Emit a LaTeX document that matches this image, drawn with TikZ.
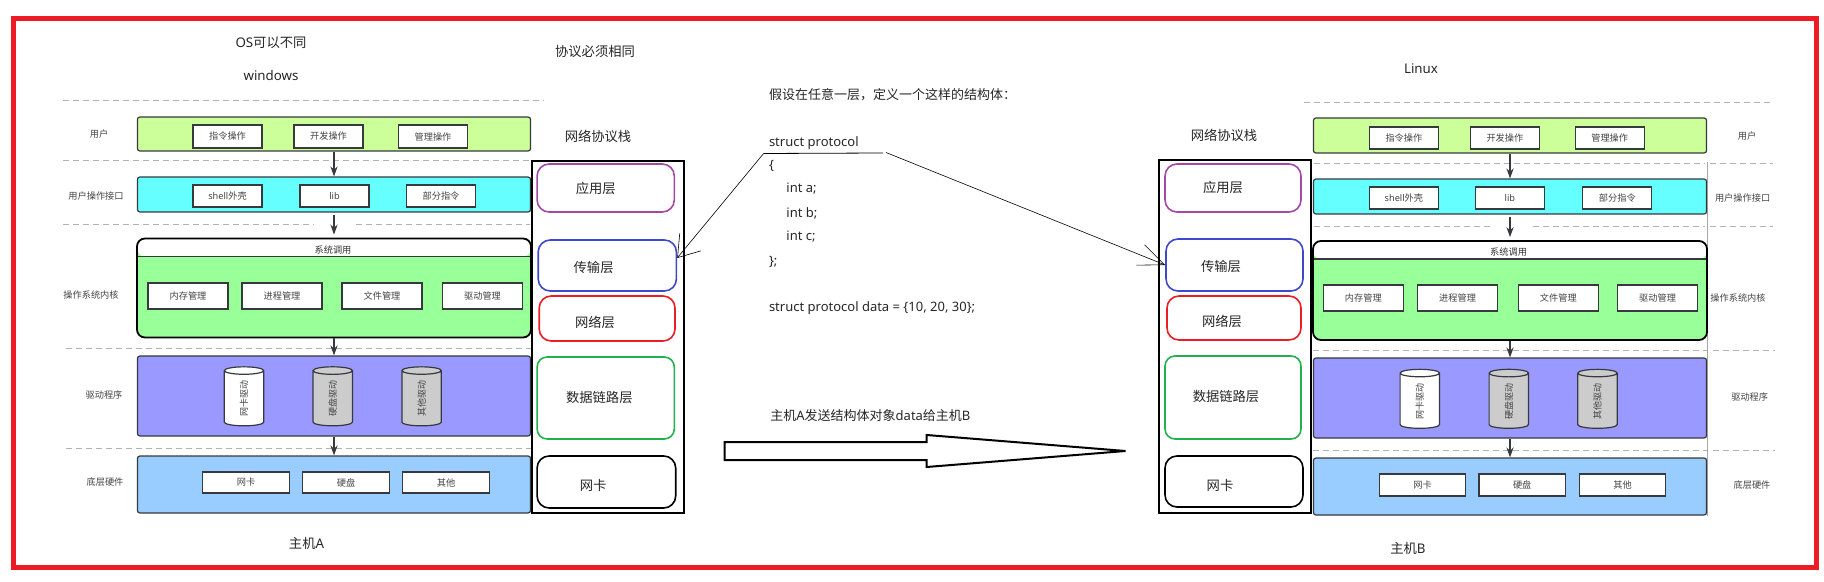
\documentclass[tikz,border=0pt]{standalone}
\usepackage{fontspec}
\setmainfont{Noto Sans CJK SC}
\newfontfamily\latinfont{Noto Sans}
\usetikzlibrary{shapes.geometric,shapes.arrows,arrows.meta}
\definecolor{framered}{HTML}{ED1C24}
\definecolor{usergreen}{HTML}{CCFF99}
\definecolor{ifacecyan}{HTML}{66FFFF}
\definecolor{kernelgreen}{HTML}{99FF99}
\definecolor{driverblue}{HTML}{9999FF}
\definecolor{hwblue}{HTML}{99CCFF}
\definecolor{cylgray}{HTML}{CCCCCC}
\definecolor{edgegray}{HTML}{36393D}
\definecolor{labelgray}{HTML}{444444}
\definecolor{apppurple}{HTML}{A349A4}
\definecolor{transblue}{HTML}{3F48CC}
\definecolor{linkgreen}{HTML}{22B14C}
\tikzset{
  layerbar/.style={draw=edgegray, line width=0.6pt, rounded corners=1.2pt, minimum width=196.5pt, inner sep=0pt},
  itembox/.style={draw=edgegray, line width=0.6pt, fill=white, inner sep=0pt, text=labelgray, font=\fontsize{4.6}{5}\selectfont},
  syscall/.style={draw=black, line width=0.9pt, rounded corners=4pt, fill=kernelgreen, minimum width=197pt, minimum height=49.5pt, inner sep=0pt,
    path picture={
      \fill[white] (path picture bounding box.north west) rectangle ([yshift=-9pt]path picture bounding box.north east);
      \draw[edgegray, line width=0.6pt] ([yshift=-9pt]path picture bounding box.north west) -- ([yshift=-9pt]path picture bounding box.north east);
    }},
  drum/.style={shape=cylinder, rotate=90, aspect=0.9, draw=edgegray, line width=0.6pt, minimum width=19.7pt, minimum height=29.5pt, inner sep=0pt, text=labelgray, font=\fontsize{4.5}{5}\selectfont},
  sidetext/.style={inner sep=0pt, text=labelgray, font=\fontsize{4.6}{5}\selectfont},
  bigtext/.style={inner sep=0pt, text=black!85, font=\fontsize{6.65}{7}\selectfont},
  codetext/.style={inner sep=0pt, anchor=west, text=black!85, font=\fontsize{6.5}{7}\selectfont},
  stackbox/.style={draw=black, line width=1pt, inner sep=0pt},
  layerloop/.style={line width=0.8pt, rounded corners=6pt, inner sep=0pt},
  sepline/.style={gray!60, line width=0.3pt, densely dashed},
  flow/.style={-{Stealth[length=5pt,width=3.6pt]}, edgegray, line width=0.6pt},
}
\begin{document}
\begin{tikzpicture}[x=0.5pt,y=-0.5pt]
    \useasboundingbox (0,0) rectangle (1824,582);
    \node[draw=framered, line width=2.5pt, minimum width=901.5pt, minimum height=274.25pt, inner sep=0pt] (frame) at (915,292.75) {};

    % separators
    \draw[sepline] (63,100) -- (544,100);
    \draw[sepline] (63,160.5) -- (531,160.5);
    \draw[sepline] (63,224) -- (314,224);
    \draw[sepline] (356,224) -- (530,224);
    \draw[sepline] (66,348) -- (531,348);
    \draw[sepline] (66,448) -- (531,448);
    \draw[sepline] (1304,102.5) -- (1773,102.5);
    \draw[sepline] (1314,163) -- (1705,163);
    \draw[sepline] (1710,163) -- (1773,163);
    \draw[sepline] (1314,226) -- (1490,226);
    \draw[sepline] (1533,226) -- (1705,226);
    \draw[sepline] (1710,226) -- (1773,226);
    \draw[sepline] (1313,350) -- (1707,350);
    \draw[sepline] (1713,350) -- (1775,350);
    \draw[sepline] (1313,450) -- (1707,450);
    \draw[sepline] (1713,450) -- (1775,450);
    \draw[gray!70, line width=0.4pt] (1707,162) -- (1707,516);

    % host A
    \node[bigtext] (osdiff) at (271,43) {{\latinfont OS}可以不同};
    \node[bigtext, font=\fontsize{6.65}{7}\latinfont] (winos) at (271,76) {windows};
    \node[sidetext] (sideua) at (99,134) {用户};
    \node[sidetext] (sideia) at (96,196) {用户操作接口};
    \node[sidetext] (sideka) at (91,295) {操作系统内核};
    \node[sidetext] (sideda) at (104,395) {驱动程序};
    \node[sidetext] (sideha) at (105,482) {底层硬件};
    \node[layerbar, fill=usergreen, minimum height=17pt] (usera) at (334,134) {};
    \node[itembox, minimum width=34.5pt, minimum height=11.5pt] (cmda) at (227.5,136.5) {指令操作};
    \node[itembox, minimum width=34.5pt, minimum height=11.5pt] (deva) at (328.5,136.5) {开发操作};
    \node[itembox, minimum width=34.5pt, minimum height=11.5pt] (mgta) at (433,136.5) {管理操作};
    \node[layerbar, fill=ifacecyan, minimum height=17.5pt] (ifacea) at (334,194.5) {};
    \node[itembox, minimum width=34.5pt, minimum height=11pt] (shella) at (227.5,196) {{\latinfont shell}外壳};
    \node[itembox, minimum width=34.5pt, minimum height=11pt, font=\fontsize{4.6}{5}\latinfont] (liba) at (334.5,196) {lib};
    \node[itembox, minimum width=34.5pt, minimum height=11pt] (parta) at (441,196) {部分指令};
    \node[syscall] (kernela) at (334,288) {};
    \node[sidetext, text=black!80] (calla) at (333,250) {系统调用};
    \node[itembox, minimum width=40pt, minimum height=13pt] (mema) at (188,296) {内存管理};
    \node[itembox, minimum width=40pt, minimum height=13pt] (proca) at (282,296) {进程管理};
    \node[itembox, minimum width=40pt, minimum height=13pt] (filea) at (382,296) {文件管理};
    \node[itembox, minimum width=40pt, minimum height=13pt] (drva) at (482.5,296) {驱动管理};
    \node[layerbar, fill=driverblue, minimum height=40pt] (drivera) at (334,396) {};
    \node[drum, fill=white] (nicdrva) at (244,398.5) {网卡驱动};
    \node[drum, fill=cylgray] (diskdrva) at (332.7,398.5) {硬盘驱动};
    \node[drum, fill=cylgray] (othdrva) at (421.6,398.5) {其他驱动};
    \node[layerbar, fill=hwblue, minimum height=28.5pt] (hwa) at (334,484.5) {};
    \node[itembox, minimum width=43.2pt, minimum height=10.5pt] (nethwa) at (246,482.5) {网卡};
    \node[itembox, minimum width=43.2pt, minimum height=10.5pt] (diska) at (346,482.5) {硬盘};
    \node[itembox, minimum width=43.2pt, minimum height=10.5pt] (otha) at (446,482.5) {其他};
    \node[bigtext] (hosta) at (306.5,543) {主机{\latinfont A}};
    \draw[flow] (usera) -- (ifacea);
    \draw[flow, shorten >=1.5pt, shorten <=1pt] (ifacea) -- (kernela);
    \draw[flow] (kernela) -- (drivera);
    \draw[flow] (drivera) -- (hwa);

    % stack A
    \node[bigtext] (agree) at (595,51) {协议必须相同};
    \node[bigtext] (titlea) at (598,136) {网络协议栈};
    \node[stackbox, minimum width=75.9pt, minimum height=176pt] (stacka) at (607.7,337) {};
    \node[layerloop, draw=apppurple, minimum width=68.6pt, minimum height=24pt] (appa) at (605.7,188) {};
    \node[layerloop, draw=transblue, minimum width=69.1pt, minimum height=25.5pt] (transa) at (607.3,265.5) {};
    \node[layerloop, draw=framered, minimum width=67.9pt, minimum height=22.5pt] (neta) at (607.1,318.5) {};
    \node[layerloop, draw=linkgreen, rounded corners=5pt, minimum width=68.6pt, minimum height=41pt] (linka) at (605.7,398) {};
    \node[layerloop, draw=black, minimum width=69.3pt, minimum height=26pt] (nica) at (606.4,482) {};
    \node[bigtext] (apptexta) at (595.7,188) {应用层};
    \node[bigtext] (transtexta) at (593.6,267) {传输层};
    \node[bigtext] (nettexta) at (595,322) {网络层};
    \node[bigtext] (linktexta) at (599.3,397) {数据链路层};
    \node[bigtext] (nictexta) at (593.2,485) {网卡};

    % middle text
    \node[codetext] (assume) at (768.6,95) {假设在任意一层，定义一个这样的结构体：};
    \node[codetext, font=\fontsize{6.5}{7}\latinfont] (structname) at (768.6,143) {struct protocol};
    \node[codetext, font=\fontsize{6.5}{7}\latinfont] (bropen) at (768.6,166) {\{};
    \node[codetext, font=\fontsize{6.5}{7}\latinfont] (inta) at (786,189) {int a;};
    \node[codetext, font=\fontsize{6.5}{7}\latinfont] (intb) at (786,213) {int b;};
    \node[codetext, font=\fontsize{6.5}{7}\latinfont] (intc) at (786,237) {int c;};
    \node[codetext, font=\fontsize{6.5}{7}\latinfont] (brclose) at (768.6,262) {\};};
    \node[codetext, font=\fontsize{6.5}{7}\latinfont] (dataline) at (768.6,308) {struct protocol data = \{10, 20, 30\};};
    \node[codetext] (sendline) at (770,416) {主机{\latinfont A}发送结构体对象{\latinfont data}给主机{\latinfont B}};
    \node[draw=black, line width=1pt, shape=single arrow, inner xsep=0pt, inner ysep=4pt, minimum height=200.5pt, minimum width=15pt, single arrow head extend=3.5pt, single arrow tip angle=9.2, anchor=tip] (sendarrow) at (1138,451) {};

    \coordinate (ulleft) at (763.6,153.5);
    \coordinate (ulright) at (883.2,153);
    \coordinate (ulgap) at (886,152.5);

    % stack B
    \node[bigtext] (titleb) at (1224,135) {网络协议栈};
    \node[stackbox, minimum width=76pt, minimum height=176.5pt] (stackb) at (1235,336.5) {};
    \node[layerloop, draw=apppurple, minimum width=68pt, minimum height=24pt] (appb) at (1233,188) {};
    \node[layerloop, draw=transblue, minimum width=68.5pt, minimum height=26pt] (transb) at (1234.5,265) {};
    \node[layerloop, draw=framered, minimum width=67pt, minimum height=22pt] (netb) at (1234,318) {};
    \node[layerloop, draw=linkgreen, rounded corners=5pt, minimum width=68pt, minimum height=41.5pt] (linkb) at (1233,397.5) {};
    \node[layerloop, draw=black, minimum width=69pt, minimum height=25.5pt] (nicb) at (1234,481.5) {};
    \node[bigtext] (apptextb) at (1223,187) {应用层};
    \node[bigtext] (transtextb) at (1221,266) {传输层};
    \node[bigtext] (nettextb) at (1222,321) {网络层};
    \node[bigtext] (linktextb) at (1226,396) {数据链路层};
    \node[bigtext] (nictextb) at (1220,485) {网卡};

    % hand drawn pointers
    \draw[line width=0.4pt] (ulleft) -- (ulright);
    \draw[line width=0.3pt, -{Straight Barb[length=10pt,width=13.7pt]}] (ulleft) -- ([yshift=3.75pt]transa.east);
    \draw[line width=0.3pt, -{Straight Barb[length=13pt,width=11pt]}] (ulgap) -- (transb.west);

    % host B
    \node[bigtext, font=\fontsize{6.65}{7}\latinfont] (linuxos) at (1421,69) {Linux};
    \node[sidetext] (sideub) at (1747,136.5) {用户};
    \node[sidetext] (sideib) at (1742.6,198) {用户操作接口};
    \node[sidetext] (sidekb) at (1738,298) {操作系统内核};
    \node[sidetext] (sidedb) at (1749.7,397) {驱动程序};
    \node[sidetext] (sidehb) at (1752,485) {底层硬件};
    \node[layerbar, fill=usergreen, minimum height=17.5pt] (userb) at (1510,135.5) {};
    \node[itembox, minimum width=34.5pt, minimum height=11pt] (cmdb) at (1403.9,138) {指令操作};
    \node[itembox, minimum width=34.5pt, minimum height=11pt] (devb) at (1504.9,138) {开发操作};
    \node[itembox, minimum width=34.5pt, minimum height=11pt] (mgtb) at (1609.7,138) {管理操作};
    \node[layerbar, fill=ifacecyan, minimum height=17.5pt] (ifaceb) at (1510,196.5) {};
    \node[itembox, minimum width=34.5pt, minimum height=11pt] (shellb) at (1403.9,198) {{\latinfont shell}外壳};
    \node[itembox, minimum width=34.5pt, minimum height=11pt, font=\fontsize{4.6}{5}\latinfont] (libb) at (1509.9,198) {lib};
    \node[itembox, minimum width=34.5pt, minimum height=11pt] (partb) at (1617.3,198) {部分指令};
    \node[syscall] (kernelb) at (1510,290.5) {};
    \node[sidetext, text=black!80] (callb) at (1508.6,252) {系统调用};
    \node[itembox, minimum width=40pt, minimum height=13pt] (memb) at (1363.3,298) {内存管理};
    \node[itembox, minimum width=40pt, minimum height=13pt] (procb) at (1457.6,298) {进程管理};
    \node[itembox, minimum width=40pt, minimum height=13pt] (fileb) at (1558.3,298) {文件管理};
    \node[itembox, minimum width=40pt, minimum height=13pt] (drvb) at (1657.6,298) {驱动管理};
    \node[layerbar, fill=driverblue, minimum height=40pt] (driverb) at (1510,398) {};
    \node[drum, fill=white] (nicdrvb) at (1419.8,401) {网卡驱动};
    \node[drum, fill=cylgray] (diskdrvb) at (1508.8,401) {硬盘驱动};
    \node[drum, fill=cylgray] (othdrvb) at (1597.5,401) {其他驱动};
    \node[layerbar, fill=hwblue, minimum height=28.5pt] (hwb) at (1510,486.5) {};
    \node[itembox, minimum width=43.2pt, minimum height=11pt] (nethwb) at (1422.6,485) {网卡};
    \node[itembox, minimum width=43.2pt, minimum height=11pt] (diskb) at (1522.2,485) {硬盘};
    \node[itembox, minimum width=43.2pt, minimum height=11pt] (othb) at (1622.6,485) {其他};
    \node[bigtext] (hostb) at (1408,548) {主机{\latinfont B}};
    \draw[flow] (userb) -- (ifaceb);
    \draw[flow, shorten >=1.5pt, shorten <=1pt] (ifaceb) -- (kernelb);
    \draw[flow] (kernelb) -- (driverb);
    \draw[flow] (driverb) -- (hwb);
\end{tikzpicture}
\end{document}
